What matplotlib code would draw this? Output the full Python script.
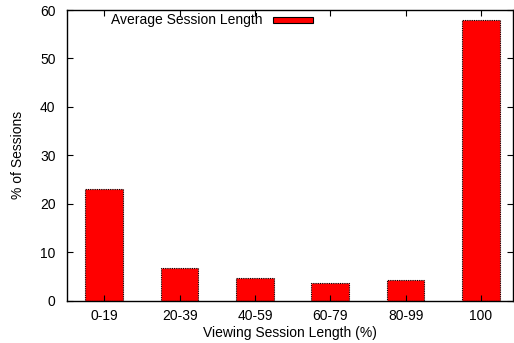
import matplotlib
matplotlib.use("Agg")
import matplotlib.pyplot as plt
from matplotlib.patches import Rectangle

categories = ["0-19", "20-39", "40-59", "60-79", "80-99", "100"]
session_pct = [23.0, 6.8, 4.6, 3.6, 4.2, 58.0]
y_ticks = [0, 10, 20, 30, 40, 50, 60]

plt.rcParams["font.family"] = ["Liberation Sans", "DejaVu Sans"]
plt.rcParams["font.size"] = 10

fig = plt.figure(figsize=(5.14, 3.43), dpi=100)
ax = fig.add_axes([0.1297, 0.1233, 0.869, 0.8475])

x = list(range(len(categories)))
ax.bar(x, session_pct, width=0.5, color="#ff0000", edgecolor="black",
       linewidth=0.8, linestyle=(0, (1, 1)))

ax.set_xlim(-0.5, 5.43)
ax.set_ylim(0, 60)
ax.set_xticks(x)
ax.set_xticklabels(categories)
ax.set_yticks(y_ticks)
ax.tick_params(direction="in", top=True, right=True, length=4, width=0.8)
ax.tick_params(axis="x", pad=6)
ax.tick_params(axis="y", pad=8)
for s in ax.spines.values():
    s.set_linewidth(1.0)

ax.set_xlabel("Viewing Session Length (%)")
ax.set_ylabel("% of Sessions")
ax.xaxis.set_label_coords(0.5, -0.088)
ax.yaxis.set_label_coords(-0.093, 0.5)

# gnuplot-style key: text right-aligned, sample box to its right
ax.text(0.439, 0.9656, "Average Session Length", transform=ax.transAxes,
        ha="right", va="center")
ax.add_patch(Rectangle((0.4616, 0.955), 0.0895, 0.0206, transform=ax.transAxes,
                       facecolor="#ff0000", edgecolor="black", linewidth=0.8))

fig.savefig("out.png", dpi=100)
